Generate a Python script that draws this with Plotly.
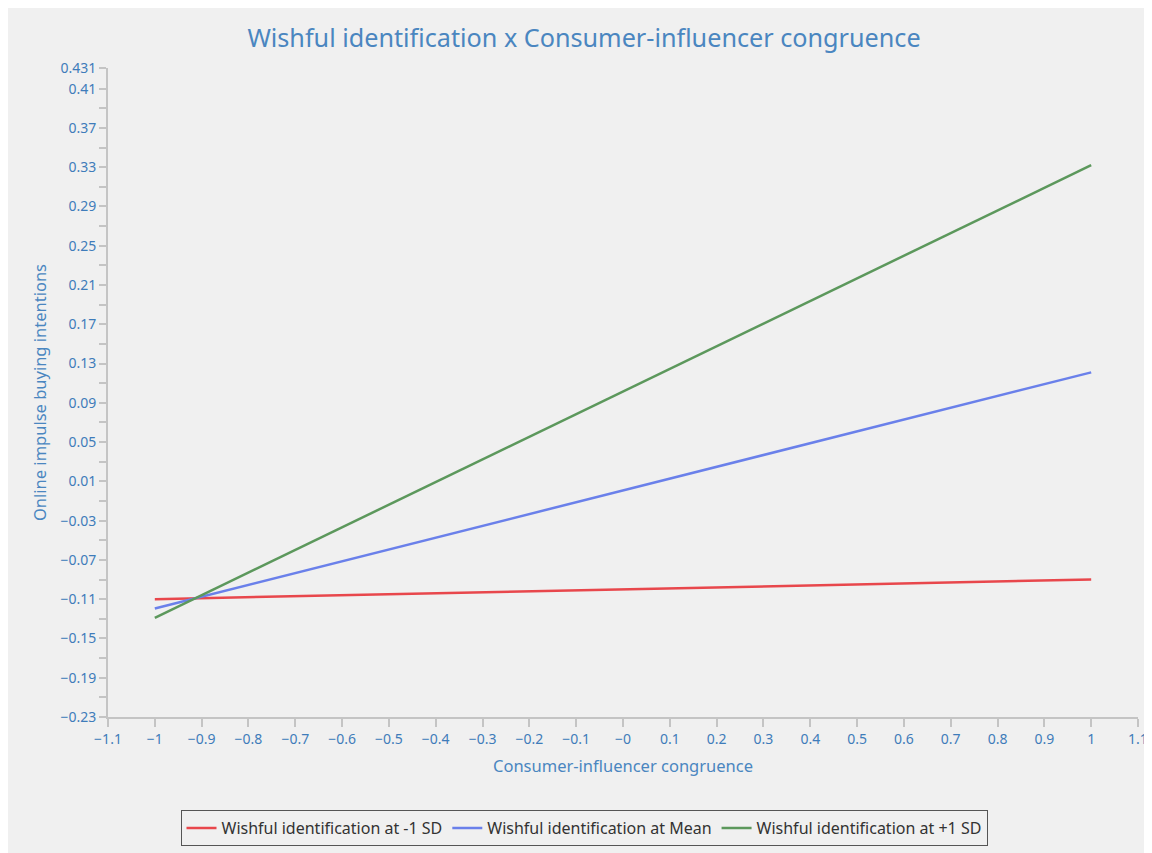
import plotly.graph_objects as go

# Data
x_vals = [-1, 1]
series_names = ["Wishful identification at -1 SD",
                "Wishful identification at Mean",
                "Wishful identification at +1 SD"]
low_sd = [-0.110, -0.090]
mean_vals = [-0.1195, 0.121]
high_sd = [-0.129, 0.332]
colors = ["#e8474c", "#6a80ea", "#5c985c"]

x_tickvals = [-1.1, -1.0, -0.9, -0.8, -0.7, -0.6, -0.5, -0.4, -0.3, -0.2, -0.1, 0.0,
              0.1, 0.2, 0.3, 0.4, 0.5, 0.6, 0.7, 0.8, 0.9, 1.0, 1.1]
x_ticktext = ["−1.1", "−1", "−0.9", "−0.8", "−0.7", "−0.6", "−0.5", "−0.4", "−0.3", "−0.2",
              "−0.1", "−0", "0.1", "0.2", "0.3", "0.4", "0.5", "0.6", "0.7", "0.8", "0.9", "1", "1.1"]
y_tickvals = [-0.23, -0.19, -0.15, -0.11, -0.07, -0.03, 0.01, 0.05, 0.09, 0.13, 0.17,
              0.21, 0.25, 0.29, 0.33, 0.37, 0.41, 0.431]
y_ticktext = ["−0.23", "−0.19", "−0.15", "−0.11", "−0.07", "−0.03", "0.01", "0.05", "0.09",
              "0.13", "0.17", "0.21", "0.25", "0.29", "0.33", "0.37", "0.41", "0.431"]
y_minor = [-0.21, -0.17, -0.13, -0.09, -0.05, -0.01, 0.03, 0.07, 0.11, 0.15, 0.19,
           0.23, 0.27, 0.31, 0.35, 0.39]

fig = go.Figure()
for name, ys, c in zip(series_names, [low_sd, mean_vals, high_sd], colors):
    fig.add_trace(go.Scatter(x=x_vals, y=ys, mode="lines", name=name,
                             line=dict(color=c, width=2.5)))

FONT = "Noto Sans"
tick_color = "#3f7cba"
axis_color = "#c4c4c4"

fig.update_layout(
    width=1152, height=853,
    paper_bgcolor="#f0f0f0", plot_bgcolor="#f0f0f0",
    margin=dict(l=100, r=22, t=60, b=144),
    font=dict(family=FONT, color=tick_color),
    title=dict(text="Wishful identification x Consumer-influencer congruence",
               x=0.5, xref="container", xanchor="center",
               y=1 - 30 / 853, yref="container", yanchor="middle",
               font=dict(size=25.2, color="#4a86c0", family=FONT)),
    showlegend=True,
    legend=dict(orientation="h", xref="container", yref="container",
                x=0.5, xanchor="center", y=1 - 820 / 853, yanchor="middle",
                bgcolor="#f0f0f0", bordercolor="#555555", borderwidth=1,
                font=dict(size=16, color="#333333", family=FONT),
                itemwidth=30, traceorder="normal"),
    xaxis=dict(range=[-1.1, 1.1], tickmode="array", tickvals=x_tickvals,
               ticktext=x_ticktext, showgrid=False, zeroline=False,
               showline=True, linecolor=axis_color, linewidth=2,
               ticks="outside", ticklen=8, tickcolor=axis_color, tickwidth=2,
               tickfont=dict(size=14, color=tick_color),
               title=dict(text="Consumer-influencer congruence", standoff=14,
                          font=dict(size=16.5, color="#4a86c0"))),
    yaxis=dict(range=[-0.23, 0.431], tickmode="array", tickvals=y_tickvals,
               ticktext=y_ticktext, showgrid=False, zeroline=False,
               showline=True, linecolor=axis_color, linewidth=2,
               ticks="outside", ticklen=7, tickcolor=axis_color, tickwidth=2,
               tickfont=dict(size=14, color=tick_color),
               minor=dict(tickmode="array", tickvals=y_minor, ticks="outside",
                          ticklen=7, tickcolor=axis_color, tickwidth=2),
               title=dict(text="Online impulse buying intentions", standoff=10,
                          font=dict(size=16.5, color="#4a86c0"))),
)

fig.write_html("out.html")
